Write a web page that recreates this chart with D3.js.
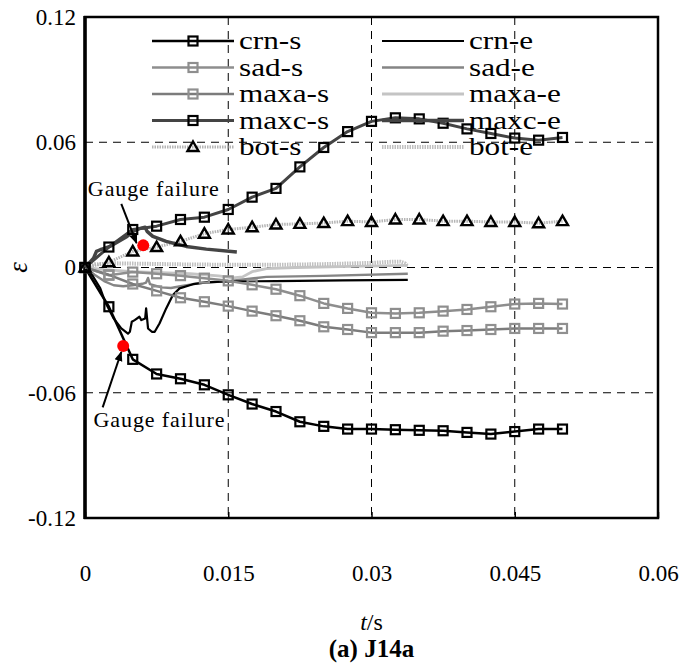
<!DOCTYPE html>
<html>
<head>
<meta charset="utf-8">
<script src="https://cdn.jsdelivr.net/npm/d3@7"></script>
<style>
body { margin: 0; background: #fff; }
text { font-family: "Liberation Serif", "Times New Roman", serif; }
</style>
</head>
<body>
<div id="chart"></div>
<script>
// marker times (s) shared by all "-s" series
var markT = [0, 0.0025, 0.005, 0.0075, 0.01, 0.0125, 0.015, 0.0175, 0.02, 0.0225, 0.025,
	0.0275, 0.03, 0.0325, 0.035, 0.0375, 0.04, 0.0425, 0.045, 0.0475, 0.05];

var crnS = [0, -0.0188, -0.044, -0.051, -0.0533, -0.0562, -0.061, -0.0654, -0.069, -0.0739, -0.0761,
	-0.0774, -0.0774, -0.0777, -0.078, -0.0782, -0.079, -0.0798, -0.0786, -0.0774, -0.0774];
var sadS = [0, -0.0037, -0.0022, -0.003, -0.0039, -0.0051, -0.0064, -0.0083, -0.0104, -0.0135, -0.0172,
	-0.0196, -0.0217, -0.022, -0.0217, -0.0209, -0.0201, -0.0188, -0.0175, -0.0172, -0.0175];
var maxaS = [0, -0.0035, -0.0079, -0.0112, -0.0145, -0.0164, -0.0185, -0.0209, -0.0231, -0.0255, -0.0284,
	-0.0297, -0.0312, -0.0312, -0.0312, -0.0305, -0.0302, -0.0297, -0.0292, -0.0292, -0.0292];
var maxcS = [0, 0.0098, 0.0182, 0.0198, 0.023, 0.0241, 0.0278, 0.0337, 0.0379, 0.0482, 0.0575,
	0.0651, 0.070, 0.0717, 0.0712, 0.0691, 0.0664, 0.0642, 0.062, 0.061, 0.0623];
var botS = [0, 0.0025, 0.0077, 0.0098, 0.0125, 0.0162, 0.0182, 0.0193, 0.0206, 0.0209, 0.0213,
	0.0222, 0.0218, 0.023, 0.023, 0.0222, 0.0222, 0.0218, 0.0218, 0.0212, 0.0222];

// "-e" series, [t, strain]
var crnE = [[0,0],[0.0008,-0.004],[0.0016,-0.010],[0.0021,-0.0164],[0.003,-0.0244],[0.0038,-0.0292],
	[0.0045,-0.0317],[0.0047,-0.0308],[0.0049,-0.026],[0.0052,-0.0252],[0.0057,-0.0236],[0.0059,-0.0252],
	[0.0063,-0.0244],[0.0064,-0.0196],[0.0066,-0.0292],[0.007,-0.0308],[0.0073,-0.0308],[0.0078,-0.0268],
	[0.0085,-0.0196],[0.0092,-0.0132],[0.0099,-0.010],[0.0113,-0.008],[0.0127,-0.0071],[0.0148,-0.0067],
	[0.02,-0.0065],[0.027,-0.0062],[0.0338,-0.0059]];
var sadE = [[0,0],[0.001,-0.0035],[0.002,-0.0065],[0.003,-0.0085],[0.004,-0.009],[0.005,-0.0085],
	[0.006,-0.0078],[0.0064,-0.0072],[0.0066,-0.005],[0.0068,-0.008],[0.008,-0.0095],[0.009,-0.0098],
	[0.010,-0.009],[0.012,-0.0075],[0.015,-0.0065],[0.019,-0.0045],[0.025,-0.004],[0.0338,-0.003]];
var maxaE = [[0,0],[0.002,-0.001],[0.005,-0.002],[0.008,-0.0025],[0.011,-0.003],[0.014,-0.004],
	[0.0155,-0.005],[0.0165,-0.0045],[0.0175,-0.002],[0.019,-0.0005],[0.022,0],[0.028,0.0005],[0.0338,0.001]];
var maxcE = [[0,0],[0.0004,0.002],[0.0009,0.0045],[0.0012,0.0077],[0.0016,0.0085],[0.0021,0.0093],
	[0.0026,0.0101],[0.0035,0.0125],[0.0044,0.0149],[0.005,0.0173],[0.0057,0.0186],[0.0063,0.0193],
	[0.0065,0.0173],[0.0071,0.0149],[0.0085,0.0125],[0.0106,0.0101],[0.0127,0.0088],[0.0159,0.0074]];
var botE = [[0,0],[0.001,0.0015],[0.003,0.002],[0.006,0.0018],[0.01,0.0015],[0.015,0.0013],[0.02,0.0013],
	[0.025,0.0016],[0.03,0.0022],[0.032,0.0027],[0.033,0.0028],[0.0335,0.002],[0.0338,0.0005]];

// gauge failure points [t, strain]
var failPts = [[0.0061, 0.0106], [0.004, -0.0376]];

var xTicks = [0, 0.015, 0.03, 0.045, 0.06];
var xTickLabels = ["0", "0.015", "0.03", "0.045", "0.06"];
var yTicks = [-0.12, -0.06, 0, 0.06, 0.12];
var yTickLabels = ["-0.12", "-0.06", "0", "0.06", "0.12"];

var width = 683, height = 663;
var margin = {top: 17, right: 25, bottom: 145, left: 85};

var x = d3.scaleLinear().domain([0, 0.06]).range([margin.left, width - margin.right]);
var y = d3.scaleLinear().domain([-0.12, 0.12]).range([height - margin.bottom, margin.top]);

var svg = d3.select("#chart").append("svg")
	.attr("width", width)
	.attr("height", height);

var defs = svg.append("defs");
defs.append("marker")
	.attr("id", "arrow")
	.attr("viewBox", "0 0 10 10")
	.attr("refX", 9).attr("refY", 5)
	.attr("markerWidth", 5).attr("markerHeight", 5)
	.attr("orient", "auto")
	.append("path")
	.attr("d", "M0,1 L10,5 L0,9 Z")
	.style("fill", "black");

// dashed grid
svg.append("g")
	.selectAll("line.vg")
	.data([0.015, 0.03, 0.045]).enter()
	.append("line")
	.attr("x1", function(d){return x(d)})
	.attr("x2", function(d){return x(d)})
	.attr("y1", y(0.12)).attr("y2", y(-0.12))
	.style("stroke", "black").style("stroke-width", 1)
	.style("stroke-dasharray", "8,6");
svg.append("g")
	.selectAll("line.hg")
	.data([0.06, 0, -0.06]).enter()
	.append("line")
	.attr("x1", x(0)).attr("x2", x(0.06))
	.attr("y1", function(d){return y(d)})
	.attr("y2", function(d){return y(d)})
	.style("stroke", "black").style("stroke-width", 1)
	.style("stroke-dasharray", "8,6");

// axes
var xAxis = d3.axisBottom(x)
	.tickValues(xTicks)
	.tickSizeInner(-6).tickSizeOuter(0)
	.tickPadding(47)
	.tickFormat(function(d, i){return xTickLabels[i]});
var gx = svg.append("g")
	.attr("transform", "translate(0," + y(-0.12) + ")")
	.call(xAxis);
gx.select(".domain").remove();
gx.selectAll("line").style("stroke", "black").style("stroke-width", 1.5);
gx.selectAll("text").style("font-size", "23px").style("fill", "black")
	.style("font-family", "'Liberation Serif', serif");

var yAxis = d3.axisLeft(y)
	.tickValues(yTicks)
	.tickSize(0)
	.tickPadding(9)
	.tickFormat(function(d, i){return yTickLabels[i]});
var gy = svg.append("g")
	.attr("transform", "translate(" + x(0) + ",0)")
	.call(yAxis);
gy.select(".domain").remove();
gy.selectAll("text").style("font-size", "23px").style("fill", "black")
	.style("font-family", "'Liberation Serif', serif");

// frame
svg.append("rect")
	.attr("x", x(0)).attr("y", y(0.12))
	.attr("width", x(0.06) - x(0)).attr("height", y(-0.12) - y(0.12))
	.style("fill", "none").style("stroke", "black").style("stroke-width", 2.5);
svg.append("line")
	.attr("x1", x(0)).attr("x2", x(0))
	.attr("y1", y(0.12) - 1).attr("y2", y(-0.12) + 1)
	.style("stroke", "black").style("stroke-width", 3.5);

var line = d3.line()
	.x(function(d){return x(d[0])})
	.y(function(d){return y(d[1])});

function pairs(vals){
	return vals.map(function(v, i){return [markT[i], v]});
}

var series = [
	{name: "crn-s", data: pairs(crnS), stroke: "#000", w: 2.5, mark: "square", mstroke: "#000"},
	{name: "sad-s", data: pairs(sadS), stroke: "#8e8e8e", w: 2.5, mark: "square", mstroke: "#8e8e8e"},
	{name: "maxa-s", data: pairs(maxaS), stroke: "#7c7c7c", w: 2.5, mark: "square", mstroke: "#909090"},
	{name: "maxc-s", data: pairs(maxcS), stroke: "#444", w: 3, mark: "square", mstroke: "#000"},
	{name: "bot-s", data: pairs(botS), stroke: "#b4b4b4", w: 3, dash: "1.5,1", mark: "triangle", mstroke: "#000"},
	{name: "crn-e", data: crnE, stroke: "#000", w: 2.2},
	{name: "sad-e", data: sadE, stroke: "#858585", w: 2.4},
	{name: "maxa-e", data: maxaE, stroke: "#c4c4c4", w: 2.8},
	{name: "maxc-e", data: maxcE, stroke: "#444", w: 3.5},
	{name: "bot-e", data: botE, stroke: "#c0c0c0", w: 4, dash: "1.5,1"}
];

var drawOrder = [7, 9, 6, 5, 1, 2, 0, 4, 8, 3];
drawOrder.forEach(function(k){
	var s = series[k];
	svg.append("path")
		.datum(s.data)
		.attr("d", line)
		.style("fill", "none")
		.style("stroke", s.stroke)
		.style("stroke-width", s.w)
		.style("stroke-dasharray", s.dash || null)
		.style("stroke-linejoin", "round");
});

function drawMark(g, type, cx, cy, col){
	if(type == "square"){
		g.append("rect")
			.attr("x", cx - 4.5).attr("y", cy - 4.5)
			.attr("width", 9).attr("height", 9)
			.style("fill", "none").style("stroke", col).style("stroke-width", 2.2);
	}else if(type == "triangle"){
		g.append("path")
			.attr("d", "M" + cx + "," + (cy - 5.5) + " L" + (cx + 5.5) + "," + (cy + 4) + " L" + (cx - 5.5) + "," + (cy + 4) + " Z")
			.style("fill", "none").style("stroke", col).style("stroke-width", 2.4)
			.style("stroke-linejoin", "miter");
	}
}

[1, 2, 0, 4, 3].forEach(function(k){
	var s = series[k];
	var g = svg.append("g");
	s.data.forEach(function(d){
		drawMark(g, s.mark, x(d[0]), y(d[1]), s.mstroke);
	});
});

// gauge failure dots + notes
svg.selectAll("circle.fail")
	.data(failPts).enter()
	.append("circle")
	.attr("cx", function(d){return x(d[0])})
	.attr("cy", function(d){return y(d[1])})
	.attr("r", 6)
	.style("fill", "#ff0000");

var notes = [
	{tx: 0.0003, ty: 0.0342, a: [[0.0038, 0.0305], [0.0054, 0.0117]]},
	{tx: 0.0009, ty: -0.0766, a: [[0.00185, -0.067], [0.0038, -0.0405]]}
];
notes.forEach(function(n){
	svg.append("text")
		.attr("x", x(n.tx)).attr("y", y(n.ty))
		.style("font-size", "22px")
		.attr("textLength", 131)
		.text("Gauge failure");
	svg.append("line")
		.attr("x1", x(n.a[0][0])).attr("y1", y(n.a[0][1]))
		.attr("x2", x(n.a[1][0])).attr("y2", y(n.a[1][1]))
		.style("stroke", "black").style("stroke-width", 2)
		.attr("marker-end", "url(#arrow)");
});

// legend (two columns)
var legCols = [{x0: 152, keys: [0, 1, 2, 3, 4]}, {x0: 382, keys: [5, 6, 7, 8, 9]}];
legCols.forEach(function(c){
	c.keys.forEach(function(k, i){
		var s = series[k];
		var ly = 41 + i * 26.5;
		var g = svg.append("g");
		g.append("line")
			.attr("x1", c.x0).attr("x2", c.x0 + 82)
			.attr("y1", ly).attr("y2", ly)
			.style("stroke", s.stroke)
			.style("stroke-width", s.w)
			.style("stroke-dasharray", s.dash || null);
		if(s.mark) drawMark(g, s.mark, c.x0 + 41, ly, s.mstroke);
		g.append("text")
			.attr("transform", "translate(" + (c.x0 + 87) + "," + (ly + 8) + ") scale(1.2,1)")
			.style("font-size", "26px")
			.text(s.name);
	});
});

// axis titles
svg.append("text")
	.attr("transform", "translate(27," + y(0) + ") rotate(-90)")
	.style("text-anchor", "middle")
	.style("font-size", "27px")
	.style("font-style", "italic")
	.text("ε");

var xt = svg.append("text")
	.attr("x", (x(0) + x(0.06)) / 2).attr("y", 630)
	.style("text-anchor", "middle")
	.style("font-size", "24px");
xt.append("tspan").style("font-style", "italic").text("t");
xt.append("tspan").text("/s");

svg.append("text")
	.attr("x", (x(0) + x(0.06)) / 2).attr("y", 657)
	.style("text-anchor", "middle")
	.style("font-size", "25px")
	.style("font-weight", "bold")
	.text("(a) J14a");
</script>
</body>
</html>
